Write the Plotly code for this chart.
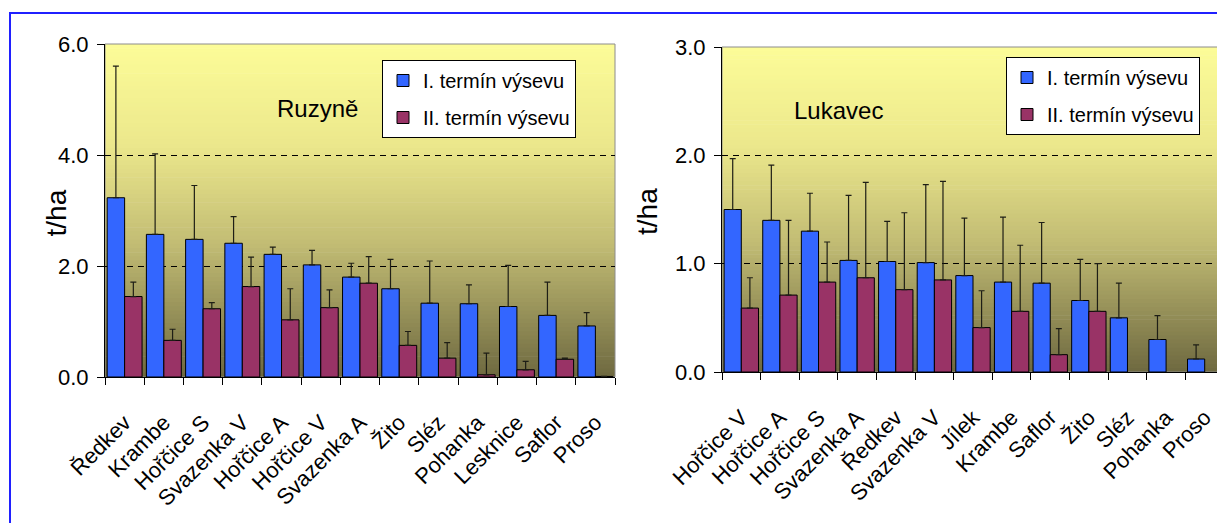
import plotly.graph_objects as go

# ---------------- data ----------------
ruz_categories = ["Ředkev", "Krambe", "Hořčice S", "Svazenka V", "Hořčice A", "Hořčice V",
                  "Svazenka A", "Žito", "Sléz", "Pohanka", "Lesknice", "Saflor", "Proso"]
ruz_term1 = [3.23, 2.57, 2.48, 2.41, 2.21, 2.02, 1.80, 1.59, 1.33, 1.32, 1.27, 1.11, 0.92]
ruz_term1_err = [2.37, 1.45, 0.97, 0.48, 0.13, 0.26, 0.25, 0.53, 0.76, 0.34, 0.74, 0.60, 0.24]
ruz_term2 = [1.45, 0.66, 1.23, 1.63, 1.03, 1.25, 1.69, 0.57, 0.34, 0.04, 0.13, 0.32, 0.01]
ruz_term2_err = [0.26, 0.20, 0.11, 0.53, 0.56, 0.32, 0.48, 0.25, 0.28, 0.39, 0.15, 0.02, 0.0]

luk_categories = ["Hořčice V", "Hořčice A", "Hořčice S", "Svazenka A", "Ředkev", "Svazenka V",
                  "Jílek", "Krambe", "Saflor", "Žito", "Sléz", "Pohanka", "Proso"]
luk_term1 = [1.50, 1.40, 1.30, 1.03, 1.02, 1.01, 0.89, 0.83, 0.82, 0.66, 0.50, 0.30, 0.12]
luk_term1_err = [0.47, 0.51, 0.35, 0.60, 0.37, 0.72, 0.53, 0.60, 0.56, 0.38, 0.32, 0.22, 0.13]
luk_term2 = [0.59, 0.71, 0.83, 0.87, 0.76, 0.85, 0.41, 0.56, 0.16, 0.56, None, None, None]
luk_term2_err = [0.28, 0.69, 0.37, 0.88, 0.71, 0.91, 0.34, 0.61, 0.24, 0.44, None, None, None]

series_names = ["I. termín výsevu", "II. termín výsevu"]
ruz_yticks = [0, 2, 4, 6]
luk_yticks = [0, 1, 2, 3]

# ---------------- style ----------------
FONT = "Liberation Sans, Arial, sans-serif"
BLUE = "#3366FF"
RED = "#993366"
OFF = 8                      # default page margin of the html body
W, H = 1225 - OFF, 523 - OFF


def px_x(v):
    return (v - OFF) / W


def px_y(v):
    return 1 - (v - OFF) / H


fig = go.Figure()


def add_bars(cats, t1, e1, t2, e2, xa, ya, legend):
    for name, vals, errs, col, grp in [
        (series_names[0], t1, e1, BLUE, "a"),
        (series_names[1], t2, e2, RED, "b"),
    ]:
        fig.add_trace(go.Bar(
            x=cats, y=vals, name=name, xaxis=xa, yaxis=ya, legend=legend,
            legendgroup=grp + legend,
            marker=dict(color=col, line=dict(color="black", width=1)),
            error_y=dict(type="data", symmetric=False, array=errs,
                         arrayminus=[0] * len(errs), color="#1e1e16",
                         thickness=1.2, width=3),
        ))


add_bars(ruz_categories, ruz_term1, ruz_term1_err, ruz_term2, ruz_term2_err, "x", "y", "legend")
add_bars(luk_categories, luk_term1, luk_term1_err, luk_term2, luk_term2_err, "x2", "y2", "legend2")

common_x = dict(type="category", showline=True, linecolor="black", linewidth=1,
                ticks="outside", tickson="boundaries", ticklen=7, tickcolor="black",
                tickangle=-45, tickfont=dict(family=FONT, size=22, color="black"),
                showgrid=False, zeroline=False, ticklabelstandoff=23, automargin=False)
common_y = dict(showline=True, linecolor="black", linewidth=1, ticks="outside",
                ticklen=7, tickcolor="black", tickformat=".1f",
                tickfont=dict(family=FONT, size=22, color="black"),
                showgrid=True, gridcolor="black", griddash="6px,5px", gridwidth=1,
                zeroline=False, automargin=False, ticklabelstandoff=4)

L_dom_x = [px_x(105), px_x(615)]
L_dom_y = [px_y(377), px_y(44)]
R_dom_x = [px_x(722), px_x(1224)]
R_dom_y = [px_y(372), px_y(47)]

fig.update_layout(
    template="none",
    width=W, height=H, autosize=False,
    margin=dict(l=0, r=0, t=0, b=0, pad=0),
    paper_bgcolor="white", plot_bgcolor="rgba(0,0,0,0)",
    barmode="group", bargap=0.11, bargroupgap=0,
    xaxis=dict(domain=L_dom_x, anchor="y", **common_x),
    yaxis=dict(domain=L_dom_y, anchor="x", range=[0, 6], tickvals=ruz_yticks, **common_y),
    xaxis2=dict(domain=R_dom_x, anchor="y2", **common_x),
    yaxis2=dict(domain=R_dom_y, anchor="x2", range=[0, 3], tickvals=luk_yticks, **common_y),
    legend=dict(x=px_x(382), y=px_y(60), xanchor="left", yanchor="top",
                bgcolor="white", bordercolor="black", borderwidth=1,
                font=dict(family=FONT, size=20, color="black"),
                itemwidth=30, tracegroupgap=8),
    legend2=dict(x=px_x(1006), y=px_y(57), xanchor="left", yanchor="top",
                 bgcolor="white", bordercolor="black", borderwidth=1,
                 font=dict(family=FONT, size=20, color="black"),
                 itemwidth=30, tracegroupgap=8),
    showlegend=True,
)

# gradient backgrounds (stripes) for each plot area
stops = [(0.0, (252, 252, 152)), (0.3, (236, 232, 140)), (0.6, (194, 188, 116)), (1.0, (110, 105, 64))]


def grad(t):
    for (t0, c0), (t1, c1) in zip(stops[:-1], stops[1:]):
        if t0 <= t <= t1:
            f = (t - t0) / (t1 - t0)
            return "rgb(%d,%d,%d)" % tuple(round(a + (b - a) * f) for a, b in zip(c0, c1))
    return "rgb(%d,%d,%d)" % stops[-1][1]


N = 80
shapes = []
for xr, yr in [("x domain", "y domain"), ("x2 domain", "y2 domain")]:
    for i in range(N):
        y1 = 1 - i / N
        y0 = 1 - (i + 1) / N
        shapes.append(dict(type="rect", xref=xr, yref=yr, x0=0, x1=1, y0=max(0, y0 - 0.002), y1=y1,
                           fillcolor=grad((i + 0.5) / N), line=dict(width=0), layer="below"))
    shapes.append(dict(type="rect", xref=xr, yref=yr, x0=0, x1=1, y0=0, y1=1,
                       line=dict(color="#8c8c8c", width=1), layer="below"))

# blue outer frame
shapes.append(dict(type="rect", xref="paper", yref="paper",
                   x0=px_x(10), x1=px_x(1260), y0=px_y(560), y1=px_y(13),
                   line=dict(color="#2020ff", width=2), fillcolor="rgba(0,0,0,0)"))
fig.update_layout(shapes=shapes)

annotations = [
    dict(text="Ruzyně", x=px_x(275), y=px_y(93), xref="paper", yref="paper",
         showarrow=False, font=dict(family=FONT, size=24, color="black")),
    dict(text="Lukavec", x=px_x(885), y=px_y(95), xref="paper", yref="paper",
         showarrow=False, font=dict(family=FONT, size=24, color="black")),
    dict(text="t/ha", x=px_x(38), y=px_y(213), xref="paper", yref="paper", textangle=-90,
         showarrow=False, font=dict(family=FONT, size=28, color="black")),
    dict(text="t/ha", x=px_x(648), y=px_y(212), xref="paper", yref="paper", textangle=-90,
         showarrow=False, font=dict(family=FONT, size=28, color="black")),
]
fig.update_layout(annotations=annotations)

fig.write_html("out.html")
